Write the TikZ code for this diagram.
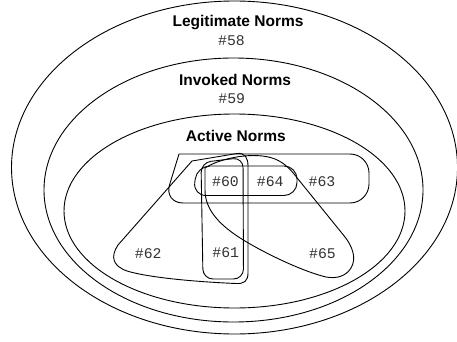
\documentclass[tikz,border=0pt]{standalone}
\usepackage{fontspec}
\setmainfont{Liberation Sans}
\newfontfamily\monofont{Liberation Mono}
\begin{document}
\begin{tikzpicture}[x=1pt,y=-1pt,
  setline/.style={draw=black,line width=0.9pt,line join=round},
  title/.style={font=\fontsize{15.5}{17}\selectfont\bfseries,inner sep=0pt,anchor=base},
  idlabel/.style={font=\fontsize{14.8}{16}\monofont,text=black!80,inner sep=0pt,anchor=base}]
\useasboundingbox (0,0) rectangle (457,342);
\fill[white] (0,0) rectangle (457,342);
% nested ellipses
\draw[setline] (234.5,167.5) ellipse [x radius=223, y radius=166.5];
\draw[setline] (233.5,190) ellipse [x radius=189.5, y radius=132];
\draw[setline] (234.5,211) ellipse [x radius=170.5, y radius=97];
% titles
\node[title] (legit) at (238,26.7) {Legitimate Norms};
\node[idlabel] (n58) at (231.5,46) {\#58};
\node[title] (invoked) at (235,85) {Invoked Norms};
\node[idlabel] (n59) at (231.7,103.3) {\#59};
\node[title] (active) at (235.8,141.7) {Active Norms};
% set 63
\draw[setline,rounded corners=19pt] (179,154) -- (369,154) -- (369,203) -- (164,203) -- (179,154);
% set 64
\draw[setline,rounded corners=13pt] (245,166) -- (297,166) -- (297,195.5) -- (193,195.5) -- (197,166) -- cycle;
% set 61
\draw[setline,rounded corners=10pt] (222,160) -- (243,157.5) -- (243.5,279) -- (203,279) -- (201,162.5) -- cycle;
% set 62
\draw[setline] (192,161) -- (237,153.5) .. controls (245,152.5) and (248,158) .. (248,166)
  -- (248,273) .. controls (248,281) and (244,284) .. (236,283.5)
  .. controls (200,282) and (150,278) .. (127,271)
  .. controls (113,266) and (110,257) .. (118,245) -- cycle;
% set 65
\draw[setline] (205,168) .. controls (220,158) and (255,151) .. (275,159)
  .. controls (285,163) and (292,171) .. (298,179) -- (345,237)
  .. controls (352,246) and (357,258) .. (351,268)
  .. controls (346,276) and (337,279) .. (326,277)
  .. controls (305,272) and (270,256) .. (245,241)
  .. controls (220,226) and (205,210) .. (205,190) -- cycle;
% labels
\node[idlabel] (n60) at (225.5,186.7) {\#60};
\node[idlabel] (n64) at (270.3,186.7) {\#64};
\node[idlabel] (n63) at (322,186.7) {\#63};
\node[idlabel] (n62) at (148.3,258) {\#62};
\node[idlabel] (n61) at (225.8,257.7) {\#61};
\node[idlabel] (n65) at (322.5,258.3) {\#65};
\end{tikzpicture}
\end{document}
